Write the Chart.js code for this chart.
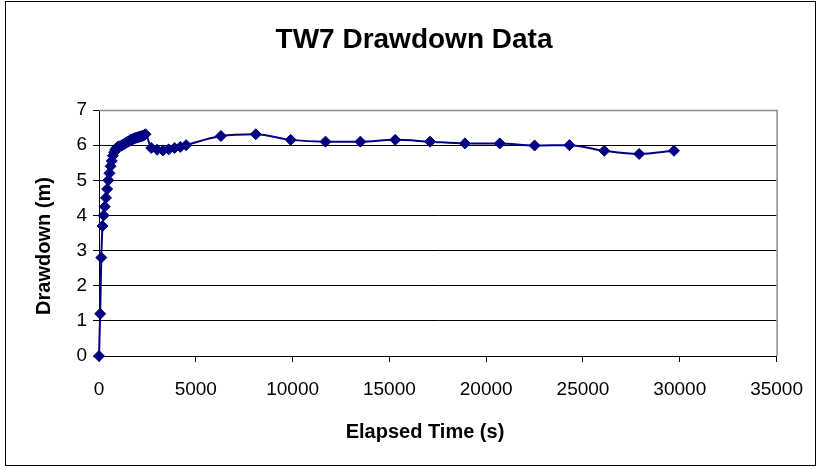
<!DOCTYPE html>
<html>
<head>
<meta charset="utf-8">
<script src="https://cdn.jsdelivr.net/npm/chart.js@4/dist/chart.umd.min.js"></script>
<style>
  html, body { margin: 0; padding: 0; background: #ffffff; }
  canvas { display: block; }
</style>
</head>
<body>
<canvas id="chart" width="819" height="469"></canvas>
<script>
// Pumping test record for well TW7: elapsed time since pumping began (s)
const elapsedSeconds = [
  0, 60, 120, 180, 240, 300, 360, 420, 480, 540,
  600, 660, 720, 780, 840, 900, 960, 1020, 1080, 1140,
  1200, 1260, 1320, 1380, 1440, 1500, 1560, 1620, 1680, 1740,
  1800, 1860, 1920, 1980, 2040, 2100, 2160, 2220, 2280, 2340,
  2400, 2700, 3000, 3300, 3600, 3900, 4200, 4500, 6300, 8100,
  9900, 11700, 13500, 15300, 17100, 18900, 20700, 22500, 24300, 26100,
  27900, 29700
];

// Measured drawdown at each time (m)
const drawdownMetres = [
  0.00, 1.20, 2.80, 3.70, 4.00, 4.25, 4.50, 4.75, 5.00, 5.20,
  5.40, 5.55, 5.70, 5.80, 5.87, 5.92, 5.95, 5.96, 5.97, 5.98,
  6.00, 6.02, 6.04, 6.06, 6.08, 6.10, 6.12, 6.14, 6.16, 6.17,
  6.18, 6.20, 6.21, 6.22, 6.23, 6.24, 6.25, 6.26, 6.27, 6.29,
  6.31, 5.92, 5.87, 5.85, 5.88, 5.92, 5.95, 6.00, 6.26, 6.31,
  6.15, 6.10, 6.10, 6.15, 6.10, 6.05, 6.05, 5.99, 6.00, 5.84,
  5.75, 5.84
];

const xTickValues = [0, 5000, 10000, 15000, 20000, 25000, 30000, 35000];
const yTickValues = [0, 1, 2, 3, 4, 5, 6, 7];

const chartTitle = 'TW7 Drawdown Data';
const xAxisTitle = 'Elapsed Time (s)';
const yAxisTitle = 'Drawdown (m)';

const FONT = '"Liberation Sans", Arial, Helvetica, sans-serif';
const NAVY = '#000080';

const points = elapsedSeconds.map((t, i) => ({ x: t, y: drawdownMetres[i] }));

// Background, outer frame and the grey plot-area border
const framePlugin = {
  id: 'frame',
  beforeDraw(chart) {
    const { ctx } = chart;
    ctx.save();
    ctx.fillStyle = '#ffffff';
    ctx.fillRect(0, 0, chart.width, chart.height);
    ctx.strokeStyle = '#000000';
    ctx.lineWidth = 1;
    ctx.strokeRect(5.5, 1.5, 810, 464);
    ctx.restore();
  },
  beforeDatasetsDraw(chart) {
    const { ctx, chartArea: a } = chart;
    ctx.save();
    ctx.strokeStyle = '#8c8c8c';
    ctx.lineWidth = 1.5;
    ctx.beginPath();
    ctx.moveTo(a.left, a.top + 0.5);
    ctx.lineTo(a.right + 0.5, a.top + 0.5);
    ctx.lineTo(a.right + 0.5, a.bottom);
    ctx.stroke();
    ctx.restore();
  }
};

// Chart title and axis titles
const titlesPlugin = {
  id: 'titles',
  afterDraw(chart) {
    const { ctx } = chart;
    ctx.save();
    ctx.fillStyle = '#000000';
    ctx.textAlign = 'center';
    ctx.textBaseline = 'middle';
    ctx.font = 'bold 28px ' + FONT;
    ctx.fillText(chartTitle, 414, 40);
    ctx.font = 'bold 20px ' + FONT;
    ctx.fillText(xAxisTitle, 425, 432);
    ctx.translate(44, 246);
    ctx.rotate(-Math.PI / 2);
    ctx.fillText(yAxisTitle, 0, 0);
    ctx.restore();
  }
};

new Chart(document.getElementById('chart'), {
  type: 'scatter',
  data: {
    datasets: [{
      data: points,
      showLine: true,
      borderColor: NAVY,
      borderWidth: 2,
      backgroundColor: NAVY,
      pointStyle: 'rectRot',
      pointRadius: 5.5,
      pointBorderWidth: 1,
      pointBorderColor: NAVY,
      pointBackgroundColor: NAVY,
      cubicInterpolationMode: 'monotone',
      clip: false
    }]
  },
  options: {
    responsive: false,
    animation: false,
    devicePixelRatio: 1,
    layout: { padding: { left: 0, top: 110, right: 42, bottom: 0 } },
    plugins: {
      legend: { display: false },
      title: { display: false },
      tooltip: { enabled: false }
    },
    scales: {
      x: {
        type: 'linear',
        min: 0,
        max: 35000,
        afterBuildTicks(scale) { scale.ticks = xTickValues.map(v => ({ value: v })); },
        afterFit(scale) { scale.height = 113; },
        ticks: {
          font: { family: FONT, size: 19 },
          color: '#000000',
          padding: 16,
          maxRotation: 0,
          autoSkip: false,
          callback: v => String(v)
        },
        grid: {
          drawOnChartArea: false,
          drawTicks: true,
          tickLength: 6,
          tickColor: '#000000',
          tickWidth: 1
        },
        border: { display: true, color: '#000000', width: 1 }
      },
      y: {
        type: 'linear',
        min: 0,
        max: 7,
        afterBuildTicks(scale) { scale.ticks = yTickValues.map(v => ({ value: v })); },
        afterFit(scale) { scale.width = 99; },
        ticks: {
          font: { family: FONT, size: 19 },
          color: '#000000',
          padding: 6,
          autoSkip: false,
          callback: v => String(v)
        },
        grid: {
          color: c => (c.tick && c.tick.value === 7) ? '#8c8c8c' : '#000000',
          lineWidth: 1,
          drawTicks: true,
          tickLength: 6,
          tickColor: '#000000'
        },
        border: { display: true, color: '#000000', width: 1 }
      }
    }
  },
  plugins: [framePlugin, titlesPlugin]
});
</script>
</body>
</html>
